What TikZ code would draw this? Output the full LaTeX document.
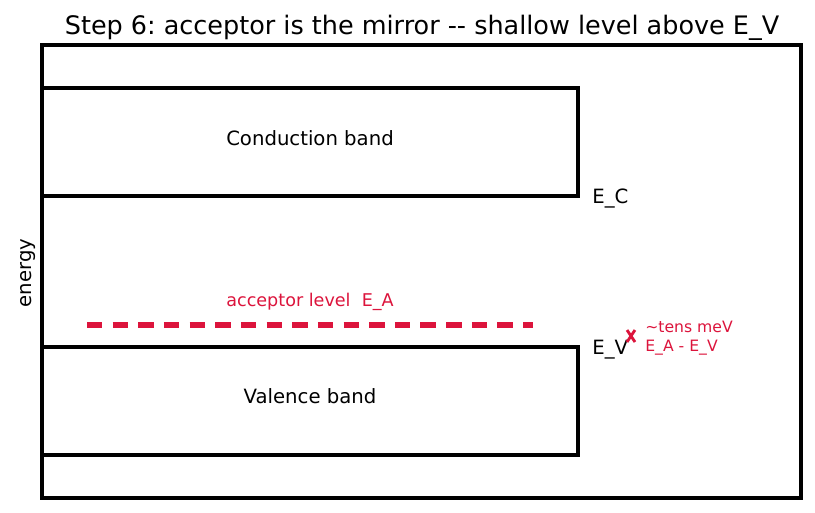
\documentclass[tikz,border=0pt]{standalone}
\usepackage{fontspec}
\setmainfont{DejaVu Sans}
\usepackage{xcolor}
\usetikzlibrary{positioning}
\definecolor{accred}{RGB}{220,20,60}
\frenchspacing

\begin{document}
\begin{tikzpicture}[
  x=0.02cm, y=-0.02cm,
  every node/.style={inner sep=0pt},
  frame/.style={draw=black, line width=2.4pt},
  lbl/.style={font=\fontsize{11.2}{13}\selectfont},
  ann/.style={font=\fontsize{10}{12}\selectfont, color=accred, align=left},
  acc/.style={accred, line width=3pt, dash pattern=on 8.8pt off 5.8pt}
]
\useasboundingbox (0,0) rectangle (815,512);

% Title and frame
\node[font=\fontsize{14.5}{17}\selectfont] (title) at (422,28)
  {Step 6: acceptor is the mirror -{}- shallow level above E\_V};
\draw[frame] (42,45) rectangle (801,498);
\node[lbl, rotate=90] (energy) at (28,273) {energy};

% Bands
\draw[frame] (42,88) rectangle (578,196);
\node[lbl] (cb) at (310,138) {Conduction band};
\draw[frame] (42,347) rectangle (578,455);
\node[lbl] (vb) at (310,396) {Valence band};

% Band edges
\node[lbl, anchor=west] (ec) at (592,199) {E\_C};
\node[lbl, anchor=west] (ev) at (592,350) {E\_V};

% Acceptor level
\coordinate (la) at (87,325);
\coordinate (lb) at (533,325);
\draw[acc] (la) -- (lb);
\node[ann] (ea) at (310,302) {acceptor level~~E\_A};

% Gap marker
\coordinate (gap) at (631,336);
\draw[accred, line width=1.6pt] ([shift={(-4,-6)}]gap) -- ([shift={(4,6)}]gap)
  ([shift={(-4,6)}]gap) -- ([shift={(4,-6)}]gap);
\node[ann, anchor=west, font=\fontsize{8.9}{10.5}\selectfont] (gl) at (645,338)
  {\textasciitilde tens meV\\E\_A - E\_V};

\end{tikzpicture}
\end{document}
